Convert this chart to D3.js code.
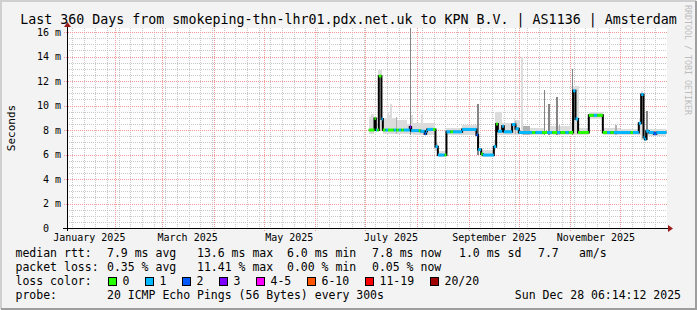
<!DOCTYPE html>
<html>
<head>
<meta charset="utf-8">
<script src="https://cdn.jsdelivr.net/npm/d3@7"></script>
<style>
body { margin: 0; background: #f3f3f3; }
svg { display: block; font-family: "DejaVu Sans Mono", monospace; }
</style>
</head>
<body>
<svg id="chart" width="697" height="310"></svg>
<script>
// median rtt, step series: start of each step, value (ms), loss bucket
const medTimes = ["07-03T00","07-06T10","07-07T05","07-08T00","07-09T00","07-10T14","07-11T10","07-13T00",
    "07-14T12","07-18T00","07-19T12","07-21T00","07-22T12","07-24T00","07-27T14","07-28T10","08-02T00",
    "08-03T00","08-05T12","08-06T10","08-07T00","08-10T12","08-12T00","08-13T10","08-17T12","08-18T14",
    "08-21T00","08-22T12","08-28T00","09-05T14","09-06T14","09-08T10","09-09T10","09-16T00","09-17T10",
    "09-18T10","09-21T00","09-22T00","09-27T00","09-29T00","10-01T00","10-09T00","10-11T00","10-15T00",
    "10-18T00","10-21T00","10-24T00","10-26T00","10-29T00","10-31T00","11-02T14","11-04T00","11-05T14",
    "11-12T00","11-15T00","11-17T00","11-20T10","11-23T00","11-25T00","11-27T00","12-07T00","12-08T12",
    "12-12T00","12-13T10","12-14T20","12-15T14","12-16T10","12-18T00","12-21T00","12-22T12"];
const medValues = [8.0,8.95,8.0,8.0,12.4,8.9,8.0,8.0,
    8.0,8.0,8.0,8.0,8.0,8.0,8.25,7.95,7.95,
    7.9,7.7,7.9,8.05,8.05,6.64,5.96,5.96,7.85,
    7.85,7.85,8.05,7.6,6.4,6.05,5.96,6.64,8.5,
    7.9,8.3,7.85,8.45,8.1,7.8,7.8,7.8,7.8,
    7.8,7.8,7.8,7.8,7.8,7.8,11.2,8.9,7.8,
    9.2,9.2,9.2,7.8,7.8,7.8,7.8,7.8,7.8,
    8.55,10.9,7.4,7.25,7.9,7.8,7.7,7.8];
const medLoss = [0,0,1,0,0,1,0,1,
    0,1,0,1,0,1,3,1,0,
    1,2,1,1,0,1,1,0,1,
    0,1,1,2,1,0,1,1,0,
    1,1,1,1,1,1,0,1,0,
    1,0,1,0,1,0,1,1,0,
    0,1,0,0,1,0,1,0,1,
    1,1,1,1,1,1,2,1];
const dataEnd = "12-28T14";

// smoke: start, length in days, low, high (ms), shade
const smokeTimes = ["07-03T00","07-04T10","07-08T19","07-11T10","07-14T00","07-14T14","07-16T00","07-16T19",
    "07-19T05","07-20T00","07-26T00","07-27T14","07-28T10","07-29T10","08-03T10","08-04T14","08-12T00",
    "08-13T10","08-18T14","08-28T00","09-06T00","09-07T10","09-16T00","09-17T00","09-21T00","09-28T00",
    "09-28T12","09-29T00","10-02T14","10-03T10","10-07T10","10-16T00","10-18T14","10-19T00","10-23T10",
    "10-25T00","11-01T00","11-01T20","11-02T00","11-06T00","11-12T00","11-20T10","11-28T00","12-01T00",
    "12-12T00","12-13T10","12-15T00","12-16T14"];
const smokeDays = [3.4,1.6,2.2,2.4,0.6,1.4,0.8,2.4,
    0.6,6.0,1.6,0.6,1.0,5.0,1.2,7.4,1.4,
    5.2,9.4,9.0,1.4,9.0,1.4,4.0,7.0,1.0,
    0.6,3.0,0.8,4.0,8.6,0.6,0.6,13.0,0.6,
    0.6,1.0,0.6,4.0,6.0,8.4,10.6,0.6,11.0,
    2.0,1.4,13.6,0.6];
const smokeLo = [7.7,7.8,8.0,7.7,7.7,7.7,7.7,7.7,
    7.7,7.7,7.7,7.6,7.7,7.6,7.6,7.6,6.3,
    5.8,7.6,7.6,6.0,5.8,6.4,7.6,7.6,7.6,
    7.7,7.6,7.6,7.6,7.6,7.6,7.6,7.6,7.6,
    7.6,7.6,7.6,7.6,7.6,8.9,7.6,7.6,7.6,
    7.6,7.2,7.5,7.2];
const smokeHi = [9.1,9.3,12.9,9.0,9.5,9.2,10.1,9.0,
    9.1,8.8,8.5,16.3,9.2,8.6,9.2,8.6,7.0,
    6.3,8.2,8.4,10.1,6.4,7.2,9.5,8.6,9.0,
    8.7,8.8,14.0,8.3,8.2,11.3,10.1,8.3,10.7,
    8.4,8.6,13.0,11.6,8.2,9.45,8.2,8.4,8.1,
    8.9,11.2,8.1,9.57];
const smokeShade = [0,0,0,0,0,0,0,0,
    1,0,0,2,0,0,0,0,0,
    0,0,0,2,0,0,0,0,0,
    1,0,0,1,0,2,2,0,2,
    1,0,2,0,0,0,0,1,0,
    0,0,0,2];

const lossLabels = ["0", "1", "2", "3", "4-5", "6-10", "11-19", "20/20"];
const lossColors = ["#26ff00", "#00b8ff", "#0059ff", "#7e00ff", "#ff00ff", "#ff5500", "#ff0000", "#a10000"];
const shadeColors = ["#dcdcdc", "#b0b0b0", "#858585"];

const yTicks = [0, 2, 4, 6, 8, 10, 12, 14, 16];
const monthLabels = ["2025-01-16", "2025-03-16", "2025-05-16", "2025-07-16", "2025-09-16", "2025-11-16"];

const rttLegend = ["7.9 ms avg", "13.6 ms max", "6.0 ms min", "7.8 ms now", "1.0 ms sd", "7.7", "am/s"];
const lossLegend = ["0.35 % avg", "11.41 % max", "0.00 % min", "0.05 % now"];
const probeText = "20 ICMP Echo Pings (56 Bytes) every 300s";
const stampText = "Sun Dec 28 06:14:12 2025";
const titleText = "Last 360 Days from smokeping-thn-lhr01.pdx.net.uk to KPN B.V. | AS1136 | Amsterdam";

const W = 697, H = 310;
const plot = { left: 67, right: 667, top: 28, bottom: 228 };

const parse = d3.timeParse("%Y-%m-%dT%H");
const t = s => parse("2025-" + s);

const end = parse("2025-12-28T22");
const start = d3.timeDay.offset(end, -360);

const x = d3.scaleTime().domain([start, end]).range([plot.left, plot.right]);
const y = d3.scaleLinear().domain([0, 16.33]).range([plot.bottom, plot.top]);

const svg = d3.select("#chart");

// frame
svg.append("rect").attr("width", W).attr("height", H).attr("fill", "#f3f3f3");
svg.append("path").attr("d", `M1,${H - 1}V1H${W - 1}`)
    .attr("fill", "none").attr("stroke", "#cfcfcf").attr("stroke-width", 2);
svg.append("path").attr("d", `M1,${H - 1}H${W - 1}V1`)
    .attr("fill", "none").attr("stroke", "#9e9e9e").attr("stroke-width", 2);

// canvas
svg.append("rect")
    .attr("x", plot.left).attr("y", plot.top)
    .attr("width", plot.right - plot.left).attr("height", plot.bottom - plot.top)
    .attr("fill", "#ffffff");

const grid = svg.append("g").attr("shape-rendering", "crispEdges");

// minor grid
const minorY = d3.range(0.5, 16.33, 0.5).filter(v => v % 2 !== 0);
grid.selectAll(".hmin").data(minorY).join("line")
    .attr("x1", plot.left).attr("x2", plot.right)
    .attr("y1", d => Math.round(y(d)) + 0.5).attr("y2", d => Math.round(y(d)) + 0.5)
    .attr("stroke", "#c8c8c8").attr("stroke-dasharray", "1,1");

const weeks = d3.timeMonday.range(start, end);
grid.selectAll(".vmin").data(weeks).join("line")
    .attr("x1", d => Math.round(x(d)) + 0.5).attr("x2", d => Math.round(x(d)) + 0.5)
    .attr("y1", plot.top).attr("y2", plot.bottom + 2)
    .attr("stroke", "#c8c8c8").attr("stroke-dasharray", "1,1");

// major grid
grid.selectAll(".hmaj").data(yTicks.filter(v => v > 0)).join("line")
    .attr("x1", plot.left - 3).attr("x2", plot.right)
    .attr("y1", d => Math.round(y(d)) + 0.5).attr("y2", d => Math.round(y(d)) + 0.5)
    .attr("stroke", "#f09a9a").attr("stroke-dasharray", "1,1");

const months = d3.timeMonth.range(d3.timeDay.offset(start, 1), end);
grid.selectAll(".vmaj").data(months).join("line")
    .attr("x1", d => Math.round(x(d)) + 0.5).attr("x2", d => Math.round(x(d)) + 0.5)
    .attr("y1", plot.top).attr("y2", plot.bottom + 3)
    .attr("stroke", "#f09a9a").attr("stroke-dasharray", "1,1");

// smoke, lighter shades first
const smoke = smokeTimes.map((s, i) => ({
    t0: t(s), days: smokeDays[i], lo: smokeLo[i], hi: smokeHi[i], shade: smokeShade[i]
})).sort((a, b) => a.shade - b.shade);

svg.append("g").attr("shape-rendering", "crispEdges")
    .selectAll("rect").data(smoke).join("rect")
    .attr("x", d => x(d.t0))
    .attr("width", d => Math.max(1.5, x(d3.timeHour.offset(d.t0, d.days * 24)) - x(d.t0)))
    .attr("y", d => y(d.hi))
    .attr("height", d => y(d.lo) - y(d.hi))
    .attr("fill", d => shadeColors[d.shade]);

// median
const med = medTimes.map((s, i) => ({ t0: t(s), v: medValues[i], loss: medLoss[i] }));
med.forEach((d, i) => { d.t1 = i < med.length - 1 ? med[i + 1].t0 : t(dataEnd); });

const line = d3.line().x(d => x(d.t)).y(d => y(d.v)).curve(d3.curveStepAfter);
const pts = med.map(d => ({ t: d.t0, v: d.v }));
pts.push({ t: t(dataEnd), v: med[med.length - 1].v });

svg.append("path").datum(pts)
    .attr("d", line)
    .attr("fill", "none").attr("stroke", "#000").attr("stroke-width", 2);

svg.append("g").selectAll("line").data(med).join("line")
    .attr("x1", d => x(d.t0)).attr("x2", d => x(d.t1))
    .attr("y1", d => y(d.v)).attr("y2", d => y(d.v))
    .attr("stroke", d => lossColors[d.loss]).attr("stroke-width", 3);

// axes
const axisG = svg.append("g").attr("shape-rendering", "crispEdges");
axisG.append("line")
    .attr("x1", plot.left - 4).attr("x2", plot.right + 2)
    .attr("y1", plot.bottom + 0.5).attr("y2", plot.bottom + 0.5)
    .attr("stroke", "#000");
axisG.append("line")
    .attr("x1", plot.left + 0.5).attr("x2", plot.left + 0.5)
    .attr("y1", plot.bottom + 3).attr("y2", plot.top - 2)
    .attr("stroke", "#000");

svg.append("path")
    .attr("d", `M${plot.right + 1},${plot.bottom - 3}L${plot.right + 6},${plot.bottom + 0.5}L${plot.right + 1},${plot.bottom + 4}Z`)
    .attr("fill", "#9b1b1b");
svg.append("path")
    .attr("d", `M${plot.left - 3},${plot.top - 1}L${plot.left + 0.5},${plot.top - 6}L${plot.left + 4},${plot.top - 1}Z`)
    .attr("fill", "#9b1b1b");

const yAxis = d3.axisLeft(y).tickValues(yTicks).tickSize(0).tickPadding(0)
    .tickFormat(d => d === 0 ? "0  " : d + " m");
svg.append("g")
    .attr("transform", `translate(${plot.left - 6},0)`)
    .call(yAxis)
    .call(g => g.select(".domain").remove())
    .call(g => g.selectAll("text")
        .attr("font-family", "DejaVu Sans Mono").attr("font-size", 10)
        .attr("fill", "#000").style("white-space", "pre"));

const xAxis = d3.axisBottom(x).tickValues(monthLabels.map(d3.timeParse("%Y-%m-%d")))
    .tickSize(0).tickPadding(0).tickFormat(d3.timeFormat("%B %Y"));
svg.append("g")
    .attr("transform", `translate(0,${plot.bottom + 6})`)
    .call(xAxis)
    .call(g => g.select(".domain").remove())
    .call(g => g.selectAll("text")
        .attr("font-family", "DejaVu Sans Mono").attr("font-size", 10).attr("fill", "#000"));

// titles
svg.append("text")
    .attr("x", W / 2).attr("y", 24).attr("text-anchor", "middle")
    .attr("font-size", 13.3).attr("fill", "#000")
    .text(titleText);

svg.append("text")
    .attr("transform", `translate(15,${(plot.top + plot.bottom) / 2}) rotate(-90)`)
    .attr("text-anchor", "middle").attr("font-size", 11).attr("fill", "#000")
    .text("Seconds");

svg.append("text")
    .attr("transform", "translate(685,5) rotate(90)")
    .attr("font-size", 8.3).attr("fill", "#bdbdbd")
    .text("RRDTOOL / TOBI OETIKER");

// legend
const lg = svg.append("g").attr("font-size", 11.5).attr("fill", "#000");
const col = [107, 197, 287, 372, 459, 538, 579];

lg.append("text").attr("x", 15.5).attr("y", 257).text("median rtt:");
rttLegend.forEach((s, i) => lg.append("text").attr("x", col[i]).attr("y", 257).text(s));

lg.append("text").attr("x", 15.5).attr("y", 271).text("packet loss:");
lossLegend.forEach((s, i) => lg.append("text").attr("x", col[i]).attr("y", 271).text(s));

lg.append("text").attr("x", 15.5).attr("y", 285).text("loss color:");
const swX = [108.5, 145.5, 182.5, 219.5, 256.5, 307.5, 365.5, 430.5];
lossLabels.forEach((s, i) => {
    lg.append("rect").attr("x", swX[i]).attr("y", 277.5).attr("width", 8).attr("height", 8)
        .attr("fill", lossColors[i]).attr("stroke", "#000").attr("stroke-width", 1);
    lg.append("text").attr("x", swX[i] + 14).attr("y", 285).text(s);
});

lg.append("text").attr("x", 15.5).attr("y", 299).text("probe:");
lg.append("text").attr("x", 107).attr("y", 299).text(probeText);
lg.append("text").attr("x", 681).attr("y", 299).attr("text-anchor", "end").text(stampText);
</script>
</body>
</html>
